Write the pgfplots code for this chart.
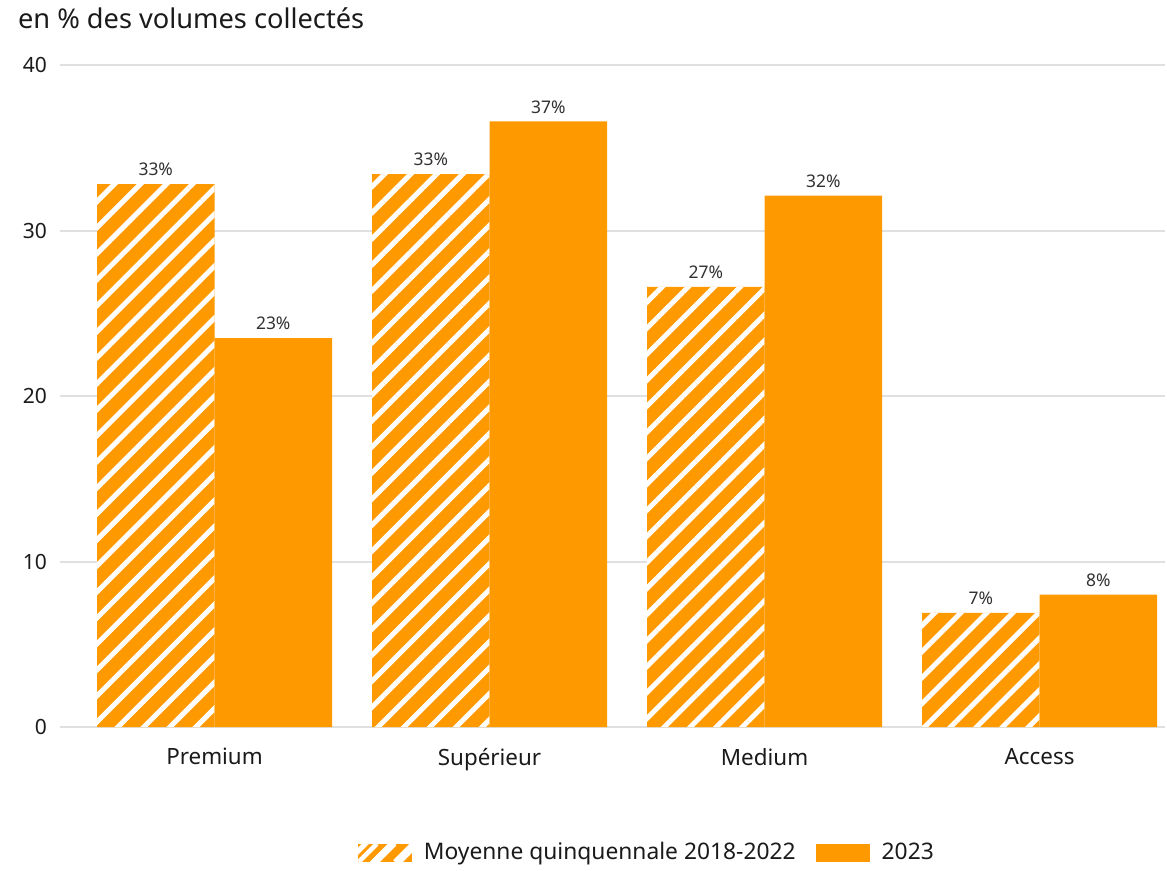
\documentclass[border=0pt]{standalone}
\usepackage{fontspec}
\setmainfont{Noto Sans}
\usepackage{pgfplots}
\usepackage{pgfplotstable}
\pgfplotsset{compat=1.18}
\usetikzlibrary{patterns.meta}
\definecolor{barorange}{HTML}{FF9900}
\definecolor{gridgray}{HTML}{E0E0E0}
\definecolor{txt}{HTML}{1A1A1A}

\pgfplotstableread{
x y lab
0 32.8 33
1 33.4 33
2 26.6 27
3 6.9 7
}\moy
\pgfplotstableread{
x y lab
0 23.5 23
1 36.6 37
2 32.1 32
3 8.0 8
}\yr

\begin{document}
\begin{tikzpicture}
\begin{axis}[
  scale only axis,
  width=552.5pt, height=331pt,
  xmin=-0.5618, xmax=3.456, ymin=0, ymax=40,
  clip=false,
  axis line style={draw=none},
  major tick length=0pt,
  ymajorgrids,
  grid style={gridgray, line width=1pt},
  ytick={0,10,20,30,40},
  xtick={0,1,2,3},
  xticklabels={Premium,Supérieur,Medium,Access},
  /pgf/number format/assume math mode=true,
  yticklabel style={font=\fontsize{10.5}{12}\selectfont, text=txt, xshift=-3pt},
  xticklabel style={font=\fontsize{11.2}{13}\selectfont, text=txt, yshift=-7pt},
  ybar=0pt,
  bar width=58.75pt,
  point meta=explicit,
  nodes near coords={\pgfmathprintnumber{\pgfplotspointmeta}\%},
  every node near coord/.append style={font=\fontsize{8.7}{10}\selectfont, text=txt!90, yshift=0.5pt},
  legend style={at={(0.532,-0.19)}, anchor=center, draw=none, fill=none,
    legend columns=2, font=\fontsize{11.4}{13}\selectfont, text=txt,
    /tikz/every odd column/.append style={column sep=4pt},
    /tikz/every even column/.append style={column sep=8pt}},
]
\addplot[draw=none, fill=barorange,
  postaction={pattern={Lines[angle=45,distance=9.2pt,line width=2.5pt]}, pattern color=white},
  legend image code/.code={\fill[fill=barorange] (0pt,-4.5pt) rectangle (27pt,4.5pt);
     \begin{scope}\clip (0pt,-4.5pt) rectangle (27pt,4.5pt);
     \draw[white, line width=2.3pt] (0.5pt,-4.5pt) -- (9.5pt,4.5pt) (9.5pt,-4.5pt) -- (18.5pt,4.5pt) (18.5pt,-4.5pt) -- (27.5pt,4.5pt);
     \end{scope}}]
  table[x=x, y=y, meta=lab] {\moy};
\addlegendentry{Moyenne quinquennale 2018-2022}
\addplot[draw=none, fill=barorange,
  legend image code/.code={\fill[fill=barorange] (0pt,-4.5pt) rectangle (27pt,4.5pt);}]
  table[x=x, y=y, meta=lab] {\yr};
\addlegendentry{2023}
\node[anchor=base west, font=\fontsize{13.6}{16}\selectfont, text=txt]
  at ([xshift=-24.5pt, yshift=18.5pt]rel axis cs:0,1) {en \% des volumes collectés};
\path (rel axis cs:0,1) ++(-30pt,32.5pt);
\path (rel axis cs:1,0) ++(1pt,-70.5pt);
\end{axis}
\end{tikzpicture}
\end{document}
